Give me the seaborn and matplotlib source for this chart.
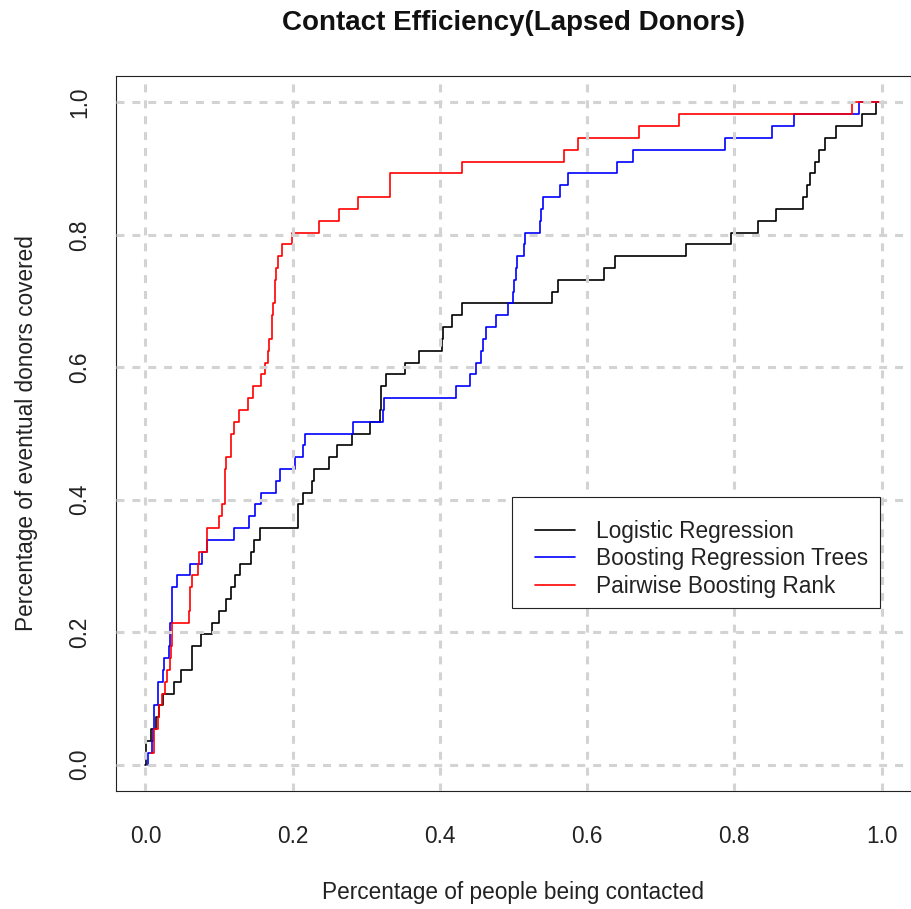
import numpy as np
import pandas as pd
import seaborn as sns
import matplotlib.pyplot as plt
from matplotlib.lines import Line2D
from matplotlib.patches import Rectangle

# Cumulative-gain curves: fraction of people contacted at which each
# additional eventual donor is reached (out of TOTAL_DONORS).
TOTAL_DONORS = 56

logit_x = [0.000, 0.0005, 0.001, 0.0073, 0.0145, 0.0186, 0.0245, 0.039, 0.048, 0.0632,
           0.0636, 0.0756, 0.091, 0.1005, 0.110, 0.116, 0.121, 0.128, 0.144, 0.148,
           0.156, 0.207, 0.2075, 0.2135, 0.2268, 0.2285, 0.2495, 0.2600, 0.2808, 0.3053,
           0.3193, 0.3197, 0.3202, 0.3270, 0.3528, 0.3714, 0.4026, 0.4036, 0.4170, 0.4305,
           0.5521, 0.5602, 0.6225, 0.6383, 0.7337, 0.7950, 0.8315, 0.8563, 0.8931, 0.8986,
           0.9022, 0.9090, 0.9149, 0.9226, 0.9376, 0.9734, 0.9928, 1.000]
logit_n = [0, 1, 2, 3, 4, 5, 6, 7, 8, 9,
           10, 11, 12, 13, 14, 15, 16, 17, 18, 19,
           20, 21, 22, 23, 24, 25, 26, 27, 28, 29,
           30, 31, 32, 33, 34, 35, 36, 37, 38, 39,
           40, 41, 42, 43, 44, 45, 46, 47, 48, 49,
           50, 51, 52, 53, 54, 55, 56, 56]

gbm_x = [0.003, 0.0031, 0.0095, 0.0100, 0.0118, 0.0122, 0.0165, 0.0168, 0.0236, 0.0258,
         0.0317, 0.0332, 0.0335, 0.0355, 0.0358, 0.0362, 0.0426, 0.0611, 0.0765, 0.0838,
         0.1209, 0.1400, 0.1495, 0.1570, 0.1775, 0.1825, 0.2035, 0.2135, 0.2174, 0.2817,
         0.3225, 0.3247, 0.4225, 0.4410, 0.4490, 0.4560, 0.4590, 0.4620, 0.4756, 0.4923,
         0.4995, 0.5000, 0.5040, 0.5046, 0.5136, 0.5163, 0.5362, 0.5376, 0.5407, 0.5634,
         0.5737, 0.6400, 0.6621, 0.7867, 0.8510, 0.8815, 0.9700, 1.000]
gbm_n = [0, 1, 2, 3, 4, 5, 6, 7, 8, 9,
         10, 11, 12, 13, 14, 15, 16, 17, 18, 19,
         20, 21, 22, 23, 24, 25, 26, 27, 28, 29,
         30, 31, 32, 33, 34, 35, 36, 37, 38, 39,
         40, 41, 42, 43, 44, 45, 46, 47, 48, 49,
         50, 51, 52, 53, 54, 55, 56, 56]

rank_x = [0.0080, 0.0110, 0.0122, 0.0168, 0.0180, 0.0220, 0.0260, 0.0290, 0.0330, 0.0345,
          0.0355, 0.0362, 0.0589, 0.0605, 0.0611, 0.0634, 0.0711, 0.0725, 0.0835, 0.0838,
          0.1005, 0.1037, 0.1075, 0.1080, 0.1085, 0.1096, 0.1162, 0.1166, 0.1209, 0.1268,
          0.1390, 0.1467, 0.1572, 0.1630, 0.1662, 0.1685, 0.1718, 0.1722, 0.1739, 0.1760,
          0.1764, 0.1775, 0.1798, 0.1857, 0.1988, 0.2364, 0.2636, 0.2885, 0.3320, 0.3324,
          0.4302, 0.5680, 0.5883, 0.6710, 0.7242, 0.9600, 1.000]
rank_n = [1, 2, 3, 4, 5, 6, 7, 8, 9, 10,
          11, 12, 13, 14, 15, 16, 17, 18, 19, 20,
          21, 22, 23, 24, 25, 26, 27, 28, 29, 30,
          31, 32, 33, 34, 35, 36, 37, 38, 39, 40,
          41, 42, 43, 44, 45, 46, 47, 48, 49, 50,
          51, 52, 53, 54, 55, 56, 56]

models = ["Logistic Regression", "Boosting Regression Trees", "Pairwise Boosting Rank"]
colors = ["#000000", "#0000FF", "#FF0000"]
ticks = [0.0, 0.2, 0.4, 0.6, 0.8, 1.0]
tick_labels = ["0.0", "0.2", "0.4", "0.6", "0.8", "1.0"]

frames = []
for name, xs, ns in zip(models, [logit_x, gbm_x, rank_x], [logit_n, gbm_n, rank_n]):
    frames.append(pd.DataFrame({"contacted": xs,
                                "covered": np.array(ns) / TOTAL_DONORS,
                                "model": name}))
df = pd.concat(frames, ignore_index=True)

sns.set_theme(style="white")
plt.rcParams["font.family"] = ["Liberation Sans", "DejaVu Sans"]

FS = 16.3
INK = "#222222"
W, H = 911, 909

fig = plt.figure(figsize=(W / 100, H / 100), dpi=100)
ax = fig.add_axes([116 / W, 1 - 791 / H, 795 / W, (791 - 76) / H])

sns.lineplot(data=df, x="contacted", y="covered", hue="model", hue_order=models,
             palette=dict(zip(models, colors)), estimator=None, sort=False,
             drawstyle="steps-post", linewidth=1.2, legend=False, ax=ax, zorder=2)

ax.set_xlim(-0.04, 1.04)
ax.set_ylim(-0.04, 1.04)

# Dashed light-grey reference grid drawn over the curves
for t in ticks:
    ax.axvline(t, color="#D3D3D3", lw=2.2, ls=(0, (2.6, 2.6)), zorder=3)
    ax.axhline(t, color="#D3D3D3", lw=2.2, ls=(0, (2.6, 2.6)), zorder=3)

ax.set_xticks(ticks)
ax.set_xticklabels(tick_labels)
ax.set_yticks(ticks)
ax.set_yticklabels(tick_labels, rotation=90, va="center")
ax.tick_params(axis="both", which="major", direction="out", length=8.6, width=0.8,
               color=INK, labelsize=FS, labelcolor=INK)
ax.tick_params(axis="x", pad=16)
ax.tick_params(axis="y", pad=9)
for s in ax.spines.values():
    s.set_visible(True)
    s.set_color(INK)
    s.set_linewidth(0.8)

ax.set_xlabel("Percentage of people being contacted", fontsize=FS, color=INK, labelpad=24)
ax.set_ylabel("Percentage of eventual donors covered", fontsize=FS, color=INK, labelpad=22)

fig.text(513 / W, 1 - 23 / H, "Contact Efficiency(Lapsed Donors)", ha="center",
         va="center", fontsize=20, fontweight="bold", color="#111111")

# Legend box with the entries placed inside it
box = Rectangle((512 / W, 1 - 608 / H), (880 - 512) / W, (608 - 497) / H,
                transform=fig.transFigure, facecolor="white", edgecolor=INK,
                linewidth=0.8, zorder=4)
ax.add_patch(box)
box.set_clip_on(False)

handles = [Line2D([], [], color=c, lw=1.2) for c in colors]
leg = ax.legend(handles, models, loc="upper left",
                bbox_to_anchor=(535 / W, 1 - 520 / H), bbox_transform=fig.transFigure,
                fontsize=FS, frameon=False, borderpad=0, borderaxespad=0,
                handlelength=1.77, handletextpad=0.93, labelspacing=0.19)
leg.set_zorder(5)
for txt in leg.get_texts():
    txt.set_color(INK)

fig.savefig("out.png", dpi=100)
